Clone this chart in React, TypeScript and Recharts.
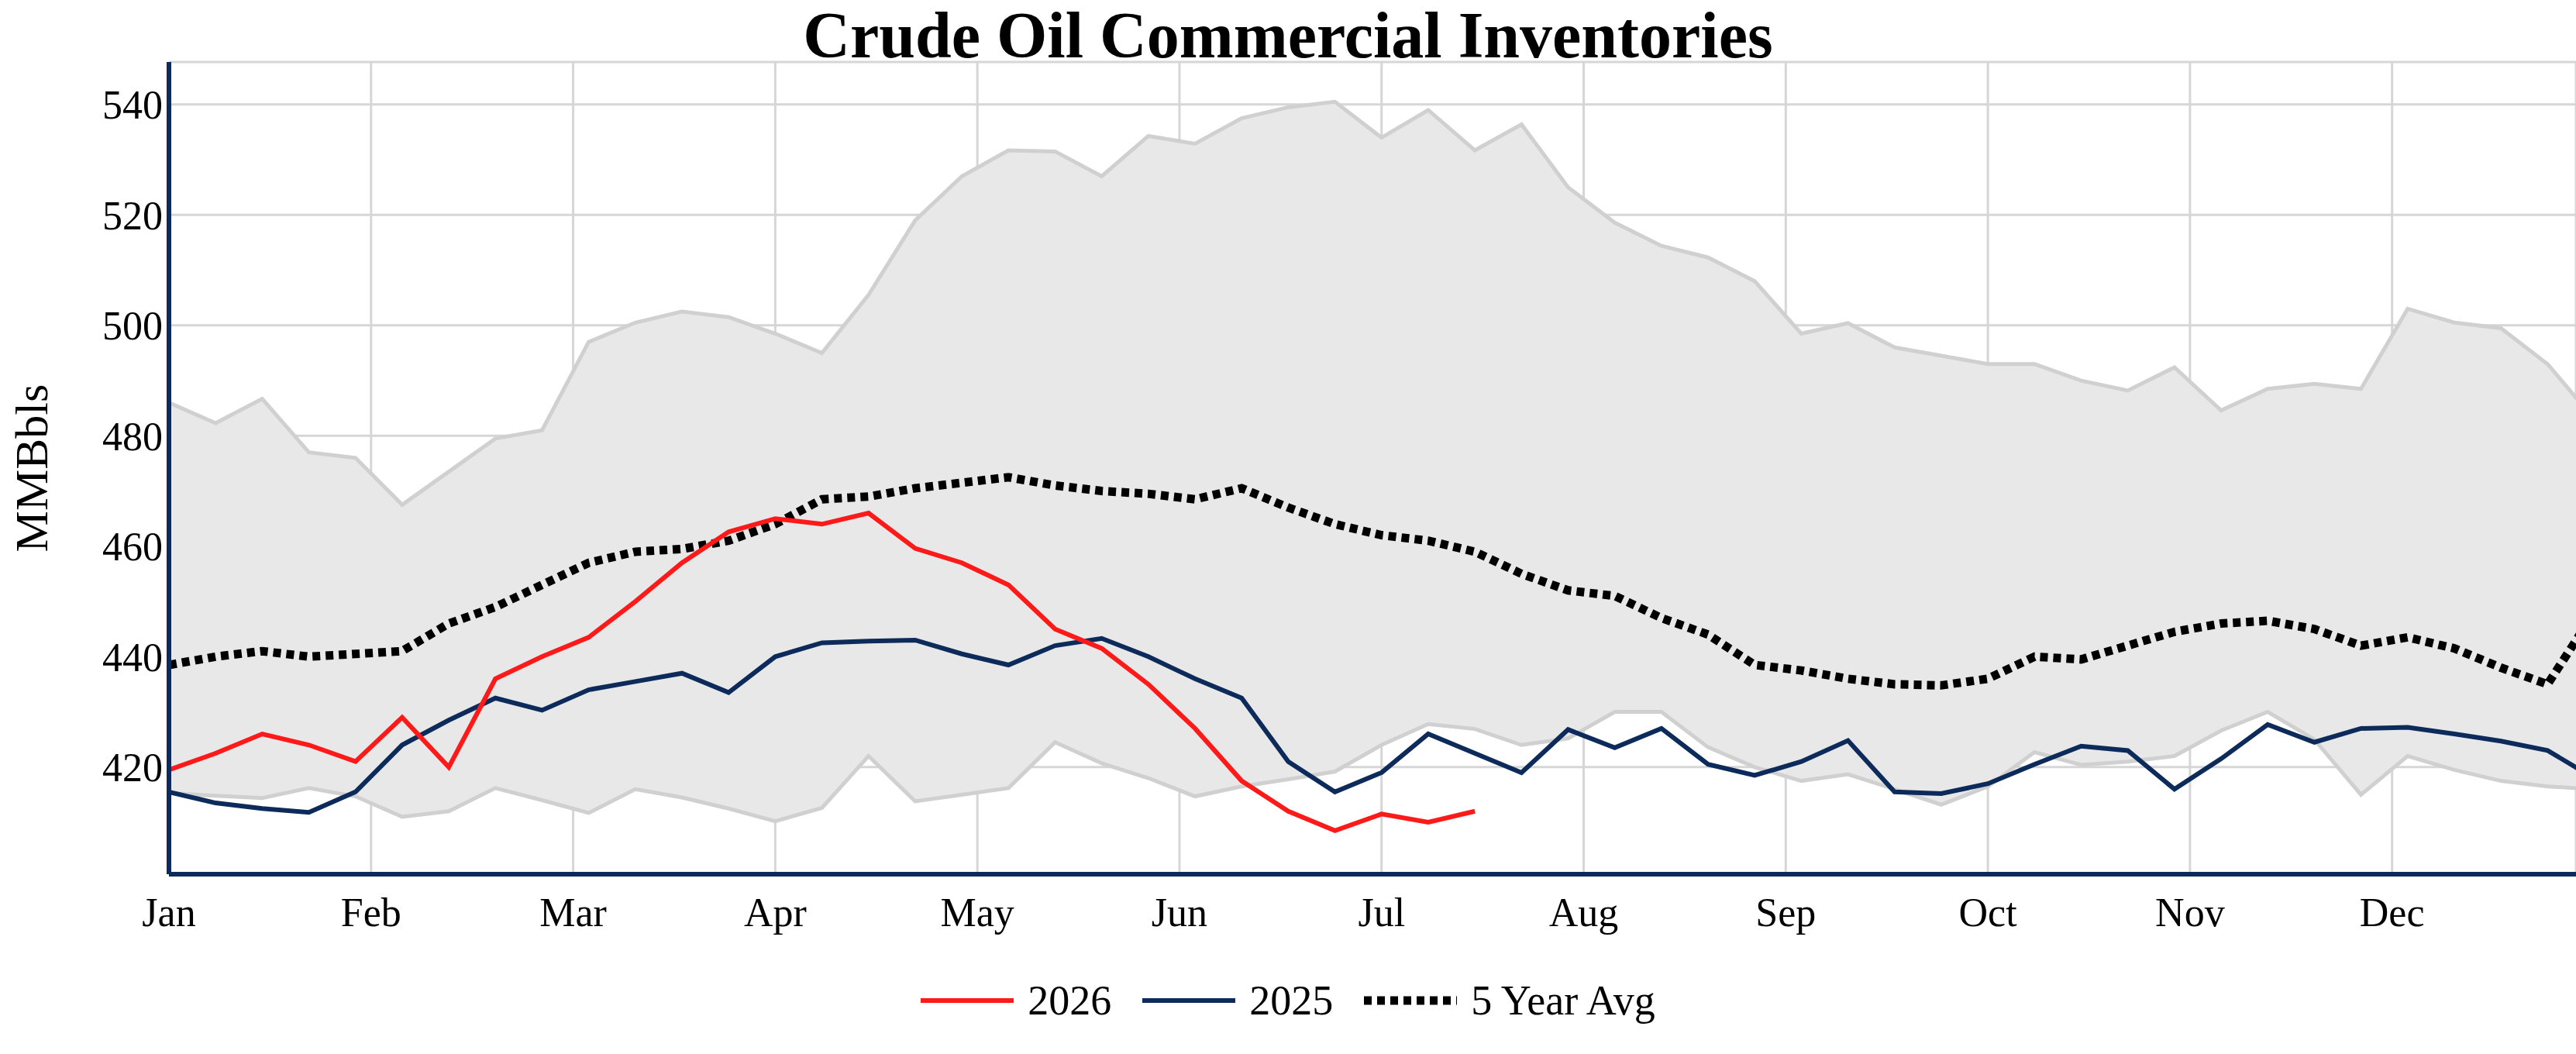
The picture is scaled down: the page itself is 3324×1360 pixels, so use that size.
import { ComposedChart, Area, Line, XAxis, YAxis, CartesianGrid } from 'recharts';

const MONTHS = ['Jan', 'Feb', 'Mar', 'Apr', 'May', 'Jun', 'Jul', 'Aug', 'Sep', 'Oct', 'Nov', 'Dec'];
const Y_TICKS = [420, 440, 460, 480, 500, 520, 540];

// weekly values, week 1 .. week 53
const Y2026 = [419.5, 422.5, 426, 424, 421, 429, 420, 436, 440, 443.5, 450, 457, 462.6, 465, 464, 466, 459.6, 457, 453, 445, 441.5, 435, 427, 417.5, 412, 408.5, 411.5, 410, 412];
const Y2025 = [415.5, 413.5, 412.5, 411.8, 415.5, 424, 428.5, 432.5, 430.3, 434, 435.5, 437, 433.5, 440, 442.5, 442.8, 443, 440.5, 438.5, 442, 443.3, 440, 436, 432.5, 421, 415.5, 419, 426, 422.5, 419, 426.8, 423.5, 427, 420.5, 418.5, 421, 424.8, 415.5, 415.2, 417, 420.5, 423.8, 423, 416, 421.5, 427.7, 424.5, 427, 427.2, 426, 424.7, 423, 418];
const AVG5 = [438.5, 440, 441, 440, 440.5, 441, 446, 449, 453, 457, 459, 459.5, 461, 464, 468.5, 469, 470.5, 471.5, 472.5, 471, 470, 469.5, 468.5, 470.5, 467, 464, 462, 461, 459, 455, 452, 451, 447, 444, 438.5, 437.5, 436, 435, 434.8, 436, 440, 439.5, 442, 444.5, 446, 446.5, 445, 442, 443.5, 441.5, 438, 435, 448];
const BAND_HIGH = [486, 482.3, 486.7, 477, 476, 467.5, 473.5, 479.5, 481, 497, 500.5, 502.5, 501.5, 498.5, 495, 505.5, 519, 527, 531.7, 531.5, 527, 534.3, 532.9, 537.5, 539.5, 540.5, 534, 539, 531.7, 536.4, 525, 518.6, 514.4, 512.3, 508, 498.5, 500.4, 496, 494.5, 493, 493, 490, 488.2, 492.4, 484.6, 488.5, 489.4, 488.5, 503, 500.5, 499.5, 493, 483];
const BAND_LOW = [415.3, 414.8, 414.4, 416.2, 414.7, 411, 412, 416.2, 414, 411.7, 416, 414.5, 412.5, 410.2, 412.6, 422, 413.8, 415, 416.2, 424.5, 420.7, 418, 414.7, 416.5, 417.8, 419.2, 424, 427.8, 426.9, 424, 425.2, 430, 430, 423.6, 420, 417.5, 418.7, 416, 413.2, 416.5, 422.7, 420.4, 421, 422, 426.6, 430, 425, 415, 422, 419.5, 417.5, 416.5, 416];

const data = Y2025.map((v, i) => ({
  x: (i * 12) / 52,
  y2026: i < Y2026.length ? Y2026[i] : null,
  y2025: v,
  avg: AVG5[i],
  band: [BAND_LOW[i], BAND_HIGH[i]],
}));

const FONT = '"Liberation Serif", "DejaVu Serif", serif';
const NAVY = '#0d2b5a';
const RED = '#ff1a1a';

export default function App() {
  return (
    <div style={{ position: 'absolute', left: 0, top: 0, width: 3324, height: 1360, background: '#fff', fontFamily: FONT }}>
      <div style={{ position: 'absolute', top: 4, left: 0, width: 3324, textAlign: 'center', fontSize: 84, fontWeight: 'bold', lineHeight: '84px' }}>
        Crude Oil Commercial Inventories
      </div>
      <ComposedChart width={3324} height={1360} data={data} margin={{ top: 80, right: 0, left: 0, bottom: 122 }}>
        <CartesianGrid stroke="#d6d6d6" strokeWidth={3} />
        <XAxis
          dataKey="x"
          type="number"
          domain={[0, 11.91]}
          ticks={MONTHS.map((_, i) => i)}
          tickFormatter={(v) => MONTHS[v]}
          allowDataOverflow
          height={110}
          stroke={NAVY}
          strokeWidth={6}
          tickLine={false}
          tick={{ fontSize: 52, fill: '#000', fontFamily: FONT }}
          dy={22}
        />
        <YAxis
          type="number"
          domain={[400.6, 547.7]}
          ticks={Y_TICKS}
          allowDataOverflow
          width={218}
          stroke={NAVY}
          strokeWidth={6}
          tickLine={false}
          tick={{ fontSize: 52, fill: '#000', fontFamily: FONT }}
          label={{ value: 'MMBbls', angle: -90, position: 'insideLeft', offset: 40, dy: 0, fontSize: 60, fill: '#000', fontFamily: FONT, style: { textAnchor: 'middle' } }}
        />
        <Area dataKey="band" type="linear" fill="#e8e8e8" fillOpacity={1} stroke="#d0d0d0" strokeWidth={5} isAnimationActive={false} />
        <Line dataKey="avg" type="linear" stroke="#000" strokeWidth={11} strokeDasharray="10 7" dot={false} isAnimationActive={false} />
        <Line dataKey="y2025" type="linear" stroke={NAVY} strokeWidth={6} dot={false} isAnimationActive={false} />
        <Line dataKey="y2026" type="linear" stroke={RED} strokeWidth={6} dot={false} connectNulls={false} isAnimationActive={false} />
      </ComposedChart>
      <div style={{ position: 'absolute', top: 1260, left: 0, width: 3324, display: 'flex', justifyContent: 'center', gap: 40, fontSize: 54, alignItems: 'center' }}>
        {[
          { name: '2026', color: RED, dash: undefined, w: 6 },
          { name: '2025', color: NAVY, dash: undefined, w: 6 },
          { name: '5 Year Avg', color: '#000', dash: '10 7', w: 11 },
        ].map((it) => (
          <div key={it.name} style={{ display: 'flex', alignItems: 'center', gap: 18 }}>
            <svg width={120} height={20}>
              <line x1={0} y1={10} x2={120} y2={10} stroke={it.color} strokeWidth={it.w} strokeDasharray={it.dash} />
            </svg>
            <span>{it.name}</span>
          </div>
        ))}
      </div>
    </div>
  );
}
